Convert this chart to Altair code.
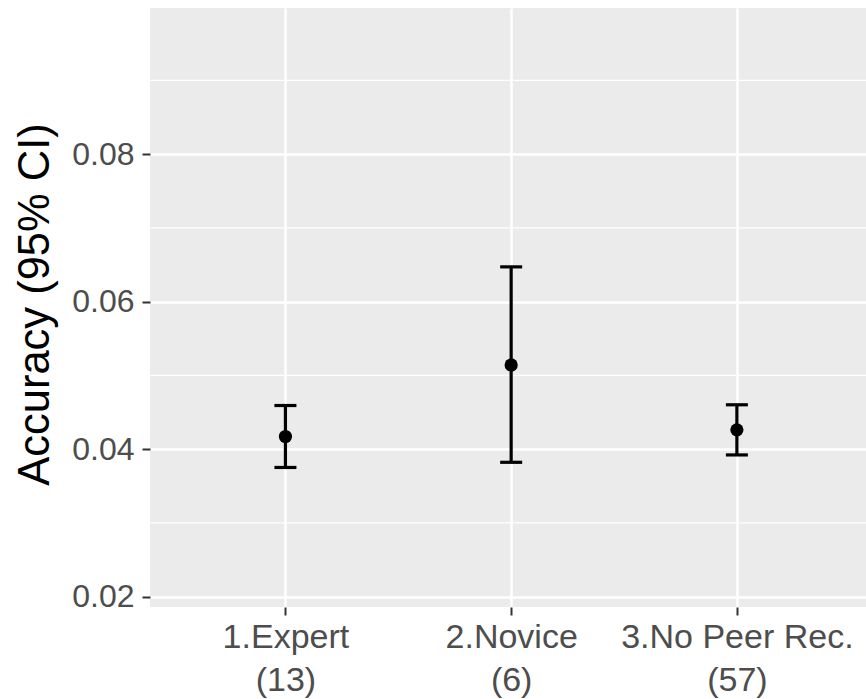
import json
import altair as alt
import pandas as pd

# ---- data ----
group_names = ["1.Expert", "2.Novice", "3.No Peer Rec."]
group_counts = [13, 6, 57]
group_index = [1, 2, 3]
means = [0.0417, 0.0514, 0.0426]
lows = [0.0375, 0.0382, 0.0392]
highs = [0.0459, 0.0647, 0.0460]
y_major = [0.02, 0.04, 0.06, 0.08]
y_minor = [0.03, 0.05, 0.07, 0.09]

df = pd.DataFrame({
    "idx": group_index,
    "group": group_names,
    "n": group_counts,
    "mean": means,
    "low": lows,
    "high": highs,
})
minor_df = pd.DataFrame({"v": y_minor})

FONT = "Liberation Sans"
label_expr = (
    "[" + json.dumps(group_names) + "[datum.value - 1], '(' + "
    + json.dumps(group_counts) + "[datum.value - 1] + ')']"
)

xscale = alt.Scale(domain=[0.4, 3.572], nice=False, zero=False)
yscale = alt.Scale(domain=[0.01858, 0.0998], nice=False, zero=False)

x_axis = alt.Axis(
    values=group_index, labelExpr=label_expr, grid=True, gridColor="white",
    gridWidth=2.5, tickColor="#333333", tickSize=8, tickWidth=2,
    labelFont=FONT, labelFontSize=34, labelColor="#4D4D4D", labelPadding=5,
    labelLineHeight=43, labelLimit=400, domain=False, labelAngle=0,
)
y_axis = alt.Axis(
    values=y_major, format=".2f", grid=True, gridColor="white", gridWidth=2.5,
    tickColor="#333333", tickSize=8, tickWidth=2, labelFont=FONT,
    labelFontSize=32, labelColor="#4D4D4D", labelPadding=8, domain=False,
    title="Accuracy (95% CI)", titleFont=FONT, titleFontSize=43.5,
    titleFontWeight="normal", titleColor="black", titleX=-115, titleY=296,
    titleAngle=-90, titleAlign="center", titleBaseline="middle",
)

minor = alt.Chart(minor_df).mark_rule(color="white", strokeWidth=1.3).encode(
    y=alt.Y("v:Q", scale=yscale, axis=y_axis),
)

base = alt.Chart(df)
x_enc = alt.X("idx:Q", scale=xscale, axis=x_axis, title="")

bars = base.mark_rule(color="black", strokeWidth=3.2).encode(
    x=x_enc,
    y=alt.Y("low:Q", scale=yscale),
    y2="high:Q",
)
cap_low = base.mark_tick(orient="horizontal", size=22, thickness=3.2,
                         color="black", opacity=1).encode(
    x=x_enc, y=alt.Y("low:Q", scale=yscale))
cap_high = base.mark_tick(orient="horizontal", size=22, thickness=3.2,
                          color="black", opacity=1).encode(
    x=x_enc, y=alt.Y("high:Q", scale=yscale))
points = base.mark_circle(size=175, color="black", opacity=1).encode(
    x=x_enc, y=alt.Y("mean:Q", scale=yscale))

chart = alt.layer(minor, bars, cap_low, cap_high, points).properties(
    width=716,
    height=599,
    autosize=alt.AutoSizeParams(type="none"),
    padding={"left": 150, "top": 8, "right": 0, "bottom": 92},
    background="white",
).configure_view(
    fill="#EBEBEB", strokeWidth=0,
)

chart.save("out.html", embed_options={"renderer": "svg", "actions": False})
